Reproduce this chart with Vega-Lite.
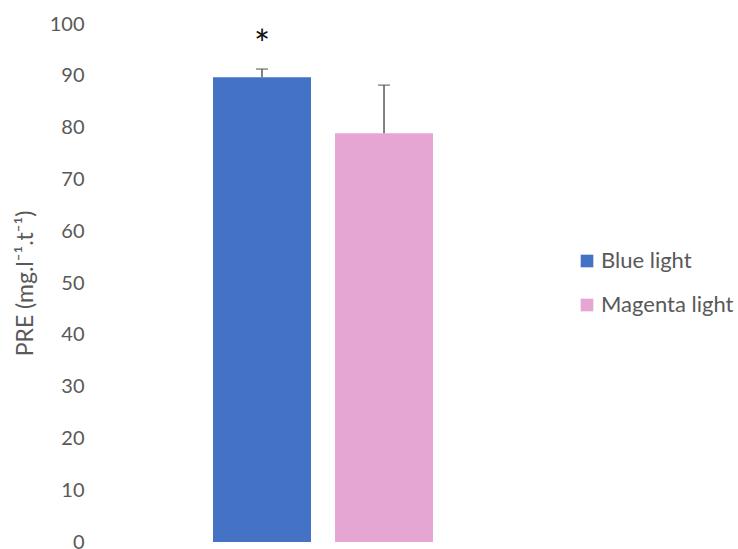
{
  "$schema": "https://vega.github.io/schema/vega-lite/v6.json",
  "autosize": "none",
  "width": 446,
  "height": 518,
  "padding": {"left": 100, "top": 24, "right": 192, "bottom": 7},
  "background": "white",
  "config": {
    "view": {"stroke": null},
    "font": "Lato",
    "text": {"font": "Lato"}
  },
  "data": {
    "values": [
      {"series": "Blue light", "value": 89.7, "upper": 91.3, "sig": "*"},
      {"series": "Magenta light", "value": 78.9, "upper": 88.2, "sig": ""}
    ]
  },
  "encoding": {
    "x": {
      "field": "series",
      "type": "nominal",
      "scale": {"paddingInner": 0.197, "paddingOuter": 0.926},
      "axis": null
    }
  },
  "layer": [
    {
      "mark": {"type": "bar"},
      "encoding": {
        "y": {
          "field": "value",
          "type": "quantitative",
          "scale": {"domain": [0, 100], "nice": false},
          "axis": {
            "title": "PRE (mg.l⁻¹.t⁻¹)",
            "values": [0, 10, 20, 30, 40, 50, 60, 70, 80, 90, 100],
            "domain": false,
            "ticks": false,
            "grid": false,
            "labelFont": "Lato",
            "labelFontSize": 20,
            "labelColor": "#595959",
            "labelPadding": 16,
            "titleFont": "Lato",
            "titleFontSize": 23,
            "titleFontWeight": "normal",
            "titleColor": "#595959",
            "titlePadding": 12
          }
        },
        "color": {
          "field": "series",
          "type": "nominal",
          "scale": {
            "domain": ["Blue light", "Magenta light"],
            "range": ["#4472C4", "#E6A6D3"]
          },
          "legend": {
            "title": null,
            "orient": "none",
            "legendX": 476,
            "legendY": 226,
            "symbolType": "square",
            "symbolSize": 160,
            "symbolStrokeWidth": 0,
            "labelFont": "Lato",
            "labelFontSize": 22,
            "labelColor": "#595959",
            "labelOffset": 3,
            "rowPadding": 22
          }
        }
      }
    },
    {
      "mark": {"type": "rule", "color": "#595959", "strokeWidth": 1.5},
      "encoding": {
        "y": {"field": "value", "type": "quantitative"},
        "y2": {"field": "upper"}
      }
    },
    {
      "mark": {"type": "tick", "color": "#595959", "thickness": 1.5, "size": 12, "orient": "horizontal"},
      "encoding": {
        "y": {"field": "upper", "type": "quantitative"}
      }
    },
    {
      "mark": {"type": "text", "color": "#111111", "fontSize": 38, "baseline": "alphabetic", "dy": -11},
      "encoding": {
        "y": {"field": "upper", "type": "quantitative"},
        "text": {"field": "sig"}
      }
    }
  ]
}
